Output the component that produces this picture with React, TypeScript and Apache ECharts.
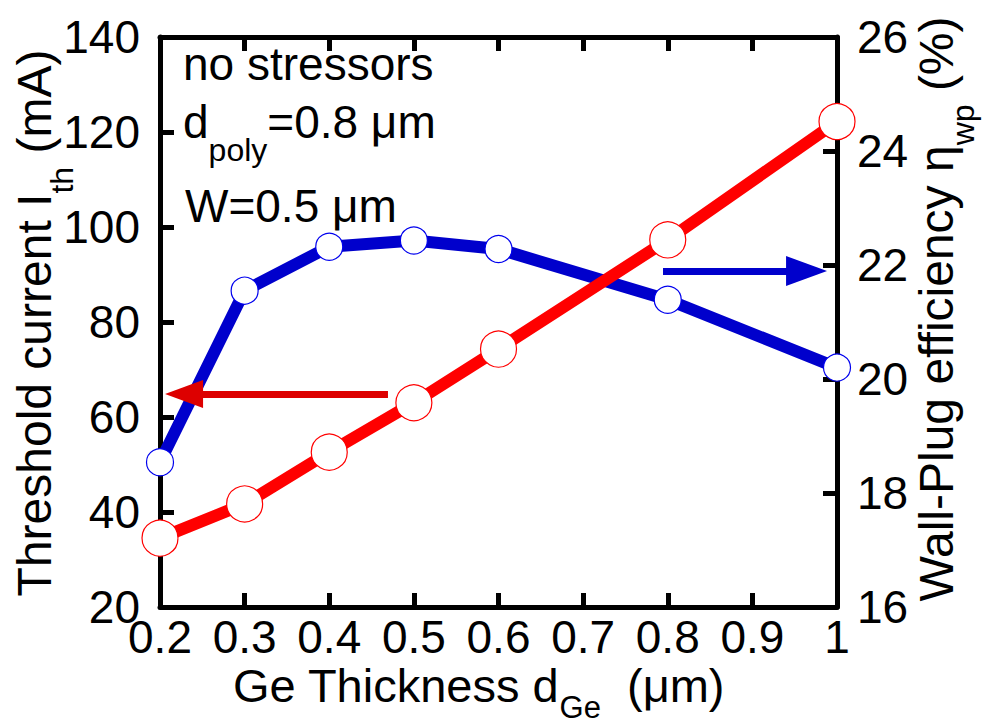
import React, { useEffect, useRef } from "react";
import * as echarts from "echarts";

// Ge thickness d_Ge (µm)
const thickness = [0.2, 0.3, 0.4, 0.5, 0.6, 0.8, 1.0];
// Threshold current I_th (mA), left axis
const thresholdCurrent = [34.5, 41.7, 52.6, 63.0, 74.3, 97.3, 122.2];
// Wall-plug efficiency η_wp (%), right axis
const wallPlugEfficiency = [18.54, 21.55, 22.32, 22.43, 22.28, 21.39, 20.2];

// Axis ranges
const xRange = [0.2, 1.0, 0.1];
const leftRange = [20, 140, 20];
const rightRange = [16, 26, 2];

// Arrows pointing each curve to its axis: [tail x, head x, y]
const currentArrow = [0.4694, 0.2284, 64.84];
const efficiencyArrow = [0.7944, 0.964, 21.895];

const FONT = "Liberation Sans, Arial, Helvetica, sans-serif";

export default function App() {
  const ref = useRef<HTMLDivElement>(null);

  useEffect(() => {
    document.body.style.margin = "0";
    if (!ref.current) return;
    const chart = echarts.init(ref.current, null, { renderer: "svg" });

    const axisLine = { show: true, lineStyle: { color: "#000", width: 5 } };
    const axisTick = {
      show: true,
      inside: true,
      length: 14,
      lineStyle: { color: "#000", width: 5 },
    };
    const tickLabel = {
      fontSize: 46,
      fontFamily: FONT,
      color: "#000",
    };

    const rich = (main: number, sub: number, drop: number) => ({
      m: { fontSize: main, fontFamily: FONT, color: "#000" },
      s: { fontSize: sub, fontFamily: FONT, color: "#000", padding: [drop, 0, 0, 0] },
    });

    chart.setOption({
      animation: false,
      backgroundColor: "#fff",
      grid: {
        left: 160,
        right: 151,
        top: 37,
        bottom: 120,
        containLabel: false,
        outerBoundsMode: "none",
      },
      xAxis: [
        {
          type: "value",
          min: xRange[0],
          max: xRange[1],
          interval: xRange[2],
          position: "bottom",
          axisLine,
          axisTick,
          splitLine: { show: false },
          axisLabel: {
            ...tickLabel,
            margin: 7,
            formatter: (v: number) => String(Math.round(v * 10) / 10),
          },
        },
        {
          type: "value",
          min: xRange[0],
          max: xRange[1],
          interval: xRange[2],
          position: "top",
          axisLine,
          axisTick,
          splitLine: { show: false },
          axisLabel: { show: false },
        },
      ],
      yAxis: [
        {
          type: "value",
          min: leftRange[0],
          max: leftRange[1],
          interval: leftRange[2],
          position: "left",
          axisLine,
          axisTick,
          splitLine: { show: false },
          axisLabel: { ...tickLabel, margin: 20, padding: [0, 0, 20, 0] },
        },
        {
          type: "value",
          min: rightRange[0],
          max: rightRange[1],
          interval: rightRange[2],
          position: "right",
          axisLine,
          axisTick,
          splitLine: { show: false },
          axisLabel: { ...tickLabel, margin: 20, padding: [0, 0, 20, 0] },
        },
      ],
      series: [
        {
          name: "Wall-plug efficiency",
          type: "line",
          xAxisIndex: 0,
          yAxisIndex: 1,
          data: thickness.map((x, i) => [x, wallPlugEfficiency[i]]),
          symbol: "circle",
          symbolSize: 27,
          showAllSymbol: true,
          lineStyle: { color: "#0000cc", width: 12 },
          itemStyle: { color: "#fff", borderColor: "#0000ee", borderWidth: 1.2 },
          emphasis: { disabled: true },
          z: 3,
          markLine: {
            silent: true,
            animation: false,
            symbol: ["none", "triangle"],
            label: { show: false },
            lineStyle: { color: "#0000cc", width: 7, type: "solid" },
            data: [
              [
                { coord: [efficiencyArrow[0], efficiencyArrow[2]], symbol: "none" },
                {
                  coord: [efficiencyArrow[1], efficiencyArrow[2]],
                  symbol: "triangle",
                  symbolSize: [30, 41],
                },
              ],
            ],
          },
        },
        {
          name: "Threshold current",
          type: "line",
          xAxisIndex: 0,
          yAxisIndex: 0,
          data: thickness.map((x, i) => [x, thresholdCurrent[i]]),
          symbol: "circle",
          symbolSize: 36,
          showAllSymbol: true,
          lineStyle: { color: "#ff0000", width: 12 },
          itemStyle: { color: "#fff", borderColor: "#ff0000", borderWidth: 1.2 },
          emphasis: { disabled: true },
          z: 4,
          markLine: {
            silent: true,
            animation: false,
            symbol: ["none", "triangle"],
            label: { show: false },
            lineStyle: { color: "#dd0000", width: 7, type: "solid" },
            data: [
              [
                { coord: [currentArrow[0], currentArrow[2]], symbol: "none" },
                {
                  coord: [currentArrow[1], currentArrow[2]],
                  symbol: "triangle",
                  symbolSize: [28, 38],
                },
              ],
            ],
          },
        },
      ],
      graphic: [
        {
          type: "text",
          x: 34,
          y: 323,
          rotation: Math.PI / 2,
          style: {
            text: "{m|Threshold current I}{s|th}{m| (mA)}",
            rich: rich(48, 32, 56),
            align: "center",
            verticalAlign: "middle",
          },
        },
        {
          type: "text",
          x: 936,
          y: 309,
          rotation: Math.PI / 2,
          style: {
            text: "{m|Wall-Plug efficiency η}{s|wp}{m| (%)}",
            rich: rich(48, 32, 54),
            align: "center",
            verticalAlign: "middle",
          },
        },
        {
          type: "text",
          x: 233,
          y: 685,
          style: {
            text: "{m|Ge Thickness d}{s|Ge}{m|  (μm)}",
            rich: rich(47, 31, 44),
            align: "left",
            verticalAlign: "middle",
          },
        },
        {
          type: "text",
          x: 183,
          y: 64,
          style: {
            text: "no stressors",
            fontSize: 46,
            fontFamily: FONT,
            fill: "#000",
            align: "left",
            verticalAlign: "middle",
          },
        },
        {
          type: "text",
          x: 183,
          y: 122,
          style: {
            text: "{m|d}{s|poly}{m|=0.8 μm}",
            rich: rich(46, 32, 56),
            align: "left",
            verticalAlign: "middle",
          },
        },
        {
          type: "text",
          x: 185,
          y: 206,
          style: {
            text: "W=0.5 μm",
            fontSize: 46,
            fontFamily: FONT,
            fill: "#000",
            align: "left",
            verticalAlign: "middle",
          },
        },
      ],
    });

    return () => chart.dispose();
  }, []);

  return <div ref={ref} style={{ width: 988, height: 727 }} />;
}
